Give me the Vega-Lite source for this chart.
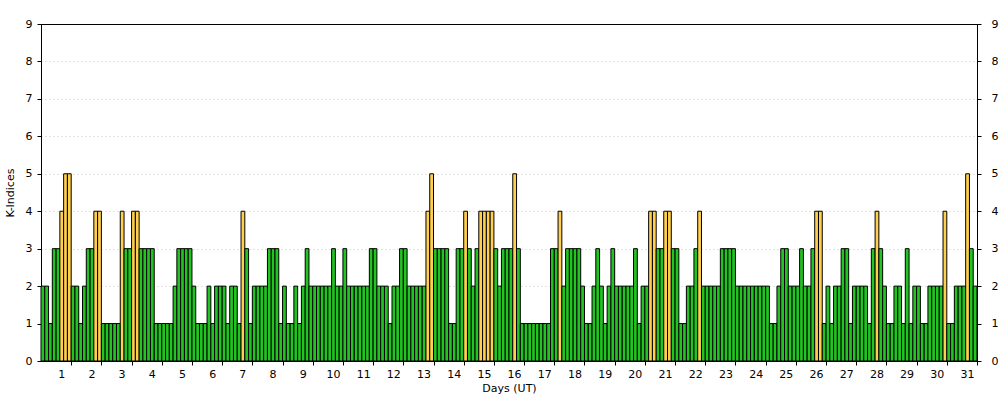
{
  "$schema": "https://vega.github.io/schema/vega-lite/v6.json",
  "width": 936,
  "height": 337,
  "autosize": "none",
  "padding": {"left": 41, "top": 24, "right": 23, "bottom": 39},
  "background": "white",
  "config": {
    "view": {"stroke": "black", "strokeWidth": 1},
    "font": "DejaVu Sans",
    "axis": {
      "labelFontSize": 11,
      "labelColor": "black",
      "titleFontSize": 11,
      "titleFontWeight": "normal",
      "titleColor": "black",
      "tickColor": "black",
      "tickSize": 4,
      "domainColor": "black",
      "labelFlush": false,
      "labelOverlap": false
    }
  },
  "data": {
    "values": [
      {"i": 1, "kp": 2}, {"i": 2, "kp": 2}, {"i": 3, "kp": 1}, {"i": 4, "kp": 3}, {"i": 5, "kp": 3}, {"i": 6, "kp": 4}, {"i": 7, "kp": 5}, {"i": 8, "kp": 5},
      {"i": 9, "kp": 2}, {"i": 10, "kp": 2}, {"i": 11, "kp": 1}, {"i": 12, "kp": 2}, {"i": 13, "kp": 3}, {"i": 14, "kp": 3}, {"i": 15, "kp": 4}, {"i": 16, "kp": 4},
      {"i": 17, "kp": 1}, {"i": 18, "kp": 1}, {"i": 19, "kp": 1}, {"i": 20, "kp": 1}, {"i": 21, "kp": 1}, {"i": 22, "kp": 4}, {"i": 23, "kp": 3}, {"i": 24, "kp": 3},
      {"i": 25, "kp": 4}, {"i": 26, "kp": 4}, {"i": 27, "kp": 3}, {"i": 28, "kp": 3}, {"i": 29, "kp": 3}, {"i": 30, "kp": 3}, {"i": 31, "kp": 1}, {"i": 32, "kp": 1},
      {"i": 33, "kp": 1}, {"i": 34, "kp": 1}, {"i": 35, "kp": 1}, {"i": 36, "kp": 2}, {"i": 37, "kp": 3}, {"i": 38, "kp": 3}, {"i": 39, "kp": 3}, {"i": 40, "kp": 3},
      {"i": 41, "kp": 2}, {"i": 42, "kp": 1}, {"i": 43, "kp": 1}, {"i": 44, "kp": 1}, {"i": 45, "kp": 2}, {"i": 46, "kp": 1}, {"i": 47, "kp": 2}, {"i": 48, "kp": 2},
      {"i": 49, "kp": 2}, {"i": 50, "kp": 1}, {"i": 51, "kp": 2}, {"i": 52, "kp": 2}, {"i": 53, "kp": 1}, {"i": 54, "kp": 4}, {"i": 55, "kp": 3}, {"i": 56, "kp": 1},
      {"i": 57, "kp": 2}, {"i": 58, "kp": 2}, {"i": 59, "kp": 2}, {"i": 60, "kp": 2}, {"i": 61, "kp": 3}, {"i": 62, "kp": 3}, {"i": 63, "kp": 3}, {"i": 64, "kp": 1},
      {"i": 65, "kp": 2}, {"i": 66, "kp": 1}, {"i": 67, "kp": 1}, {"i": 68, "kp": 2}, {"i": 69, "kp": 1}, {"i": 70, "kp": 2}, {"i": 71, "kp": 3}, {"i": 72, "kp": 2},
      {"i": 73, "kp": 2}, {"i": 74, "kp": 2}, {"i": 75, "kp": 2}, {"i": 76, "kp": 2}, {"i": 77, "kp": 2}, {"i": 78, "kp": 3}, {"i": 79, "kp": 2}, {"i": 80, "kp": 2},
      {"i": 81, "kp": 3}, {"i": 82, "kp": 2}, {"i": 83, "kp": 2}, {"i": 84, "kp": 2}, {"i": 85, "kp": 2}, {"i": 86, "kp": 2}, {"i": 87, "kp": 2}, {"i": 88, "kp": 3},
      {"i": 89, "kp": 3}, {"i": 90, "kp": 2}, {"i": 91, "kp": 2}, {"i": 92, "kp": 2}, {"i": 93, "kp": 1}, {"i": 94, "kp": 2}, {"i": 95, "kp": 2}, {"i": 96, "kp": 3},
      {"i": 97, "kp": 3}, {"i": 98, "kp": 2}, {"i": 99, "kp": 2}, {"i": 100, "kp": 2}, {"i": 101, "kp": 2}, {"i": 102, "kp": 2}, {"i": 103, "kp": 4}, {"i": 104, "kp": 5},
      {"i": 105, "kp": 3}, {"i": 106, "kp": 3}, {"i": 107, "kp": 3}, {"i": 108, "kp": 3}, {"i": 109, "kp": 1}, {"i": 110, "kp": 1}, {"i": 111, "kp": 3}, {"i": 112, "kp": 3},
      {"i": 113, "kp": 4}, {"i": 114, "kp": 3}, {"i": 115, "kp": 2}, {"i": 116, "kp": 3}, {"i": 117, "kp": 4}, {"i": 118, "kp": 4}, {"i": 119, "kp": 4}, {"i": 120, "kp": 4},
      {"i": 121, "kp": 3}, {"i": 122, "kp": 2}, {"i": 123, "kp": 3}, {"i": 124, "kp": 3}, {"i": 125, "kp": 3}, {"i": 126, "kp": 5}, {"i": 127, "kp": 3}, {"i": 128, "kp": 1},
      {"i": 129, "kp": 1}, {"i": 130, "kp": 1}, {"i": 131, "kp": 1}, {"i": 132, "kp": 1}, {"i": 133, "kp": 1}, {"i": 134, "kp": 1}, {"i": 135, "kp": 1}, {"i": 136, "kp": 3},
      {"i": 137, "kp": 3}, {"i": 138, "kp": 4}, {"i": 139, "kp": 2}, {"i": 140, "kp": 3}, {"i": 141, "kp": 3}, {"i": 142, "kp": 3}, {"i": 143, "kp": 3}, {"i": 144, "kp": 2},
      {"i": 145, "kp": 1}, {"i": 146, "kp": 1}, {"i": 147, "kp": 2}, {"i": 148, "kp": 3}, {"i": 149, "kp": 2}, {"i": 150, "kp": 1}, {"i": 151, "kp": 2}, {"i": 152, "kp": 3},
      {"i": 153, "kp": 2}, {"i": 154, "kp": 2}, {"i": 155, "kp": 2}, {"i": 156, "kp": 2}, {"i": 157, "kp": 2}, {"i": 158, "kp": 3}, {"i": 159, "kp": 1}, {"i": 160, "kp": 2},
      {"i": 161, "kp": 2}, {"i": 162, "kp": 4}, {"i": 163, "kp": 4}, {"i": 164, "kp": 3}, {"i": 165, "kp": 3}, {"i": 166, "kp": 4}, {"i": 167, "kp": 4}, {"i": 168, "kp": 3},
      {"i": 169, "kp": 3}, {"i": 170, "kp": 1}, {"i": 171, "kp": 1}, {"i": 172, "kp": 2}, {"i": 173, "kp": 2}, {"i": 174, "kp": 3}, {"i": 175, "kp": 4}, {"i": 176, "kp": 2},
      {"i": 177, "kp": 2}, {"i": 178, "kp": 2}, {"i": 179, "kp": 2}, {"i": 180, "kp": 2}, {"i": 181, "kp": 3}, {"i": 182, "kp": 3}, {"i": 183, "kp": 3}, {"i": 184, "kp": 3},
      {"i": 185, "kp": 2}, {"i": 186, "kp": 2}, {"i": 187, "kp": 2}, {"i": 188, "kp": 2}, {"i": 189, "kp": 2}, {"i": 190, "kp": 2}, {"i": 191, "kp": 2}, {"i": 192, "kp": 2},
      {"i": 193, "kp": 2}, {"i": 194, "kp": 1}, {"i": 195, "kp": 1}, {"i": 196, "kp": 2}, {"i": 197, "kp": 3}, {"i": 198, "kp": 3}, {"i": 199, "kp": 2}, {"i": 200, "kp": 2},
      {"i": 201, "kp": 2}, {"i": 202, "kp": 3}, {"i": 203, "kp": 2}, {"i": 204, "kp": 2}, {"i": 205, "kp": 3}, {"i": 206, "kp": 4}, {"i": 207, "kp": 4}, {"i": 208, "kp": 1},
      {"i": 209, "kp": 2}, {"i": 210, "kp": 1}, {"i": 211, "kp": 2}, {"i": 212, "kp": 2}, {"i": 213, "kp": 3}, {"i": 214, "kp": 3}, {"i": 215, "kp": 1}, {"i": 216, "kp": 2},
      {"i": 217, "kp": 2}, {"i": 218, "kp": 2}, {"i": 219, "kp": 2}, {"i": 220, "kp": 1}, {"i": 221, "kp": 3}, {"i": 222, "kp": 4}, {"i": 223, "kp": 3}, {"i": 224, "kp": 2},
      {"i": 225, "kp": 1}, {"i": 226, "kp": 1}, {"i": 227, "kp": 2}, {"i": 228, "kp": 2}, {"i": 229, "kp": 1}, {"i": 230, "kp": 3}, {"i": 231, "kp": 1}, {"i": 232, "kp": 2},
      {"i": 233, "kp": 2}, {"i": 234, "kp": 1}, {"i": 235, "kp": 1}, {"i": 236, "kp": 2}, {"i": 237, "kp": 2}, {"i": 238, "kp": 2}, {"i": 239, "kp": 2}, {"i": 240, "kp": 4},
      {"i": 241, "kp": 1}, {"i": 242, "kp": 1}, {"i": 243, "kp": 2}, {"i": 244, "kp": 2}, {"i": 245, "kp": 2}, {"i": 246, "kp": 5}, {"i": 247, "kp": 3}, {"i": 248, "kp": 2}
    ]
  },
  "layer": [
    {
      "mark": {"type": "bar", "width": 3.774, "stroke": "black", "strokeWidth": 1},
      "encoding": {
        "x": {
          "field": "i",
          "type": "quantitative",
          "scale": {"domain": [0.5, 248.5], "nice": false, "zero": false, "padding": 0},
          "axis": {
            "title": "Days (UT)",
            "values": [8.5, 16.5, 24.5, 32.5, 40.5, 48.5, 56.5, 64.5, 72.5, 80.5, 88.5, 96.5, 104.5, 112.5, 120.5, 128.5, 136.5, 144.5, 152.5, 160.5, 168.5, 176.5, 184.5, 192.5, 200.5, 208.5, 216.5, 224.5, 232.5, 240.5, 248.5],
            "labelExpr": "round(datum.value / 8)",
            "labelOffset": -10,
            "labelPadding": 3,
            "titlePadding": 3,
            "grid": false
          }
        },
        "y": {
          "field": "kp",
          "type": "quantitative",
          "scale": {"domain": [0, 9], "nice": false},
          "axis": {
            "orient": "left",
            "title": "K-Indices",
            "values": [0, 1, 2, 3, 4, 5, 6, 7, 8, 9],
            "labelPadding": 5,
            "titlePadding": 10,
            "grid": true,
            "gridColor": "#c8c8c8",
            "gridDash": [1, 3],
            "gridOpacity": {"condition": {"test": "datum.value == 0 || datum.value == 9", "value": 0}, "value": 1}
          }
        },
        "color": {
          "condition": {"test": "datum.kp >= 4", "value": "#ffd04f"},
          "value": "#22c422"
        }
      }
    },
    {
      "mark": {"type": "rule", "opacity": 0},
      "encoding": {
        "y": {
          "field": "kp",
          "type": "quantitative",
          "scale": {"domain": [0, 9], "nice": false},
          "axis": {
            "orient": "right",
            "title": null,
            "values": [0, 1, 2, 3, 4, 5, 6, 7, 8, 9],
            "labelPadding": 10,
            "grid": false
          }
        }
      }
    }
  ],
  "resolve": {"scale": {"y": "independent"}}
}
